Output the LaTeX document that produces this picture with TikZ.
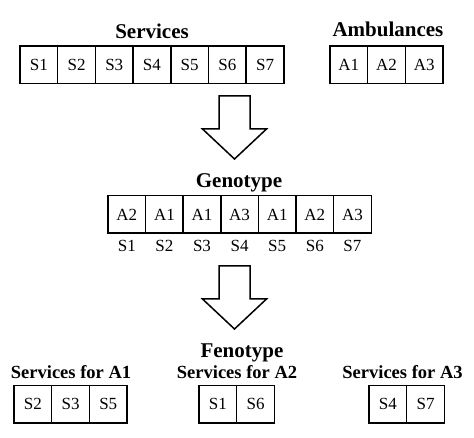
\documentclass[tikz,border=0pt]{standalone}
\usepackage{fontspec}
\setmainfont{Liberation Serif}
\usetikzlibrary{positioning}
\newcommand{\widthcell}{37.7pt}
\newcommand{\heightcell}{37.5pt}
\newcommand{\cellfont}{\fontsize{17}{19}\selectfont}
\newcommand{\titlefont}{\fontsize{21}{23}\selectfont\bfseries}
\newcommand{\subtitlefont}{\fontsize{18.5}{20}\selectfont\bfseries}
% hollow arrow pointing down: #1 = x of axis, #2 = y of top edge
\newcommand{\downblock}[2]{
    \draw[bigarrow] (#1-15.5,#2) -- (#1+15.5,#2) -- (#1+15.5,#2+33) -- (#1+32,#2+33)
        -- (#1,#2+63) -- (#1-32,#2+33) -- (#1-15.5,#2+33) -- cycle;
}
\tikzset{
    cell/.style={draw, rectangle, line width=1.5pt, minimum width=\widthcell, minimum height=\heightcell,
        inner sep=0pt, outer sep=0pt, font=\cellfont},
    gene/.style={cell, label={[label distance=3pt, font=\cellfont]below:#1}},
    title/.style={anchor=base, font=\titlefont},
    subtitle/.style={anchor=base, font=\subtitlefont},
    bigarrow/.style={line width=1.5pt, line join=miter, fill=white}
}
\begin{document}
\begin{tikzpicture}[x=1pt, y=-1pt]
    \useasboundingbox (0,0) rectangle (474,438);

    % input
    \node[title] (services) at (152,39) {Services};
    \path
        (38.85,65) node[cell] (s1) {S1}
        ++(37.7,0) node[cell] (s2) {S2}
        ++(37.7,0) node[cell] (s3) {S3}
        ++(37.7,0) node[cell] (s4) {S4}
        ++(37.7,0) node[cell] (s5) {S5}
        ++(37.7,0) node[cell] (s6) {S6}
        ++(37.7,0) node[cell] (s7) {S7};

    \node[title] (ambulances) at (388,37) {Ambulances};
    \path
        (348.85,65) node[cell] (a1) {A1}
        ++(37.7,0) node[cell] (a2) {A2}
        ++(37.7,0) node[cell] (a3) {A3};

    \downblock{234.5}{96}

    % genotype
    \node[title] (genotype) at (239,188) {Genotype};
    \path
        (126.8,214.5) node[gene=S1] (g1) {A2}
        ++(37.6,0) node[gene=S2] (g2) {A1}
        ++(37.6,0) node[gene=S3] (g3) {A1}
        ++(37.6,0) node[gene=S4] (g4) {A3}
        ++(37.6,0) node[gene=S5] (g5) {A1}
        ++(37.6,0) node[gene=S6] (g6) {A2}
        ++(37.6,0) node[gene=S7] (g7) {A3};

    \downblock{234.5}{266}

    % fenotype
    \node[title] (fenotype) at (242,357) {Fenotype};

    \node[subtitle] (for-a1) at (71,378) {Services for A1};
    \path
        (32.85,404) node[cell] (f1-s2) {S2}
        ++(37.7,0) node[cell] (f1-s3) {S3}
        ++(37.7,0) node[cell] (f1-s5) {S5};

    \node[subtitle] (for-a2) at (237,378) {Services for A2};
    \path
        (217.85,404) node[cell] (f2-s1) {S1}
        ++(37.7,0) node[cell] (f2-s6) {S6};

    \node[subtitle] (for-a3) at (402.5,378) {Services for A3};
    \path
        (387.85,404) node[cell] (f3-s4) {S4}
        ++(37.7,0) node[cell] (f3-s7) {S7};
\end{tikzpicture}
\end{document}
